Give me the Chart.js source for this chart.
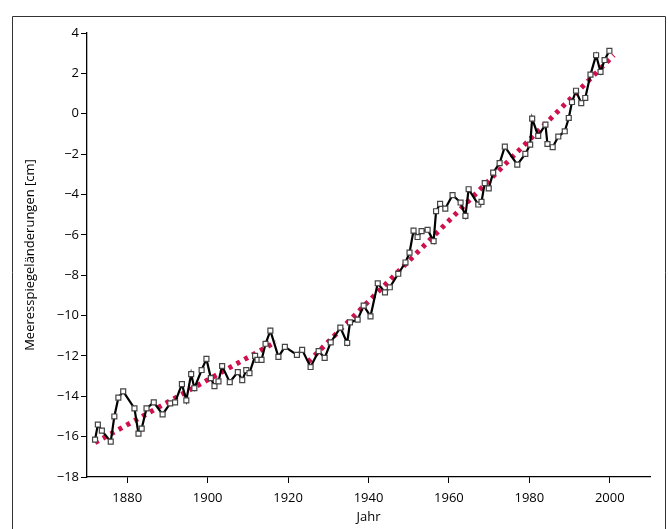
<!DOCTYPE html>
<html>
<head>
<meta charset="utf-8">
<script src="https://cdn.jsdelivr.net/npm/chart.js@4"></script>
<style>
  html, body { margin: 0; padding: 0; background: #fff; }
  #wrap { width: 668px; height: 529px; }
</style>
</head>
<body>
<div id="wrap"><canvas id="seaChart" width="668" height="529"></canvas></div>
<script>
// sea level data (years / cm)
const years = [
  1872, 1872.7, 1873.7, 1875.9, 1876.8, 1877.8, 1879, 1881.8, 1882.8, 1883.6,
  1884.8, 1886.6, 1888.8, 1890.7, 1891.9, 1893.6, 1894.7, 1895.9, 1896.7, 1898.5,
  1899.7, 1900.8, 1901.7, 1902.7, 1903.6, 1905.5, 1907.5, 1908.6, 1909.6, 1910.4,
  1911.8, 1912.4, 1913.4, 1914.4, 1915.6, 1917.6, 1919.2, 1922.2, 1923.5, 1925.6,
  1927.6, 1929.1, 1930.6, 1933.0, 1934.7, 1935.4, 1937.3, 1938.8, 1940.5, 1942.3,
  1944.1, 1945.3, 1947.4, 1949.2, 1950.2, 1951.2, 1952.2, 1953.2, 1954.7, 1956.2,
  1956.8, 1957.8, 1959.1, 1960.9, 1962.9, 1964.1, 1964.9, 1967.3, 1968.1, 1968.9,
  1969.9, 1971.0, 1972.6, 1973.9, 1977.0, 1979.0, 1980.2, 1980.7, 1982.2, 1984.0,
  1984.5, 1985.8, 1987.2, 1988.8, 1989.8, 1990.6, 1991.6, 1992.9, 1993.9, 1995.2,
  1996.6, 1997.7, 1998.7, 1999.9
]
const seaLevel = [
  -16.15, -15.4, -15.7, -16.25, -15.0, -14.07, -13.76, -14.6, -15.85, -15.6,
  -14.6, -14.3, -14.9, -14.35, -14.3, -13.4, -14.2, -12.9, -13.6, -12.7,
  -12.15, -13.1, -13.5, -13.26, -12.5, -13.3, -12.8, -13.2, -12.7, -12.85,
  -12.0, -12.2, -12.2, -11.4, -10.75, -12.05, -11.55, -11.95, -11.7, -12.55,
  -11.76, -12.1, -11.33, -10.6, -11.36, -10.34, -10.2, -9.51, -10.04, -8.4,
  -8.85, -8.6, -7.93, -7.37, -6.88, -5.79, -6.11, -5.82, -5.75, -6.31,
  -4.83, -4.47, -4.7, -4.03, -4.4, -5.06, -3.74, -4.5, -4.37, -3.44,
  -3.7, -2.92, -2.45, -1.63, -2.52, -1.99, -1.53, -0.24, -1.1, -0.54,
  -1.5, -1.66, -1.13, -0.87, -0.21, 0.58, 1.14, 0.52, 0.78, 1.94,
  2.9, 2.07, 2.66, 3.12
]
// two linear trend pieces (null = gap)
const trendYears = [1872, 1917, 1921, 1925, 2001]
const trendValues = [-16.3, -11.3, null, -12.3, 2.9]

const xTicks = [1880, 1900, 1920, 1940, 1960, 1980, 2000]
const yTicks = [-18, -16, -14, -12, -10, -8, -6, -4, -2, 0, 2, 4]

const FONT = 'Open Sans, Lato, sans-serif'

const framePlugin = {
  id: 'frame',
  beforeDraw(chart) {
    const ctx = chart.ctx
    ctx.save()
    ctx.strokeStyle = '#333'
    ctx.lineWidth = 1
    ctx.beginPath()
    ctx.moveTo(12.5, 529)
    ctx.lineTo(12.5, 16.5)
    ctx.lineTo(665.5, 16.5)
    ctx.lineTo(665.5, 529)
    ctx.stroke()
    ctx.restore()
  },
}

const ctx = document.getElementById('seaChart').getContext('2d')
new Chart(ctx, {
  type: 'line',
  data: {
    datasets: [
      {
        label: 'Trend',
        data: trendYears.map((x, i) => ({ x, y: trendValues[i] })),
        borderColor: '#d0104c',
        borderWidth: 5,
        borderDash: [4, 5],
        pointRadius: 0,
        spanGaps: false,
        order: 2,
      },
      {
        label: 'Meeresspiegel',
        data: years.map((x, i) => ({ x, y: seaLevel[i] })),
        borderColor: '#000',
        borderWidth: 2.2,
        pointStyle: 'rect',
        pointRadius: 3.5,
        pointBackgroundColor: '#fff',
        pointBorderColor: '#444',
        pointBorderWidth: 1.2,
        tension: 0,
        order: 1,
      },
    ],
  },
  options: {
    responsive: false,
    animation: false,
    layout: { padding: { left: 22, top: 33, right: 18, bottom: 4 } },
    plugins: { legend: { display: false }, tooltip: { enabled: false } },
    scales: {
      x: {
        type: 'linear',
        min: 1870,
        max: 2010,
        afterBuildTicks: (s) => { s.ticks = xTicks.map((v) => ({ value: v })) },
        afterFit: (s) => { s.height = 48 },
        grid: { drawOnChartArea: false, tickLength: 6, color: '#000' },
        border: { color: '#000', width: 1.3 },
        ticks: { color: '#000', font: { family: FONT, size: 13 }, padding: 7, maxRotation: 0, callback: (v) => String(v) },
        title: { display: true, text: 'Jahr', color: '#000', font: { family: FONT, size: 13 }, padding: 0 },
      },
      y: {
        min: -18,
        max: 4,
        afterBuildTicks: (s) => { s.ticks = yTicks.map((v) => ({ value: v })) },
        afterFit: (s) => { s.width = 65 },
        grid: { drawOnChartArea: false, tickLength: 6, color: '#000' },
        border: { color: '#000', width: 1.3 },
        ticks: {
          color: '#000',
          font: { family: FONT, size: 13 },
          padding: 2,
          callback: (v) => (v < 0 ? '\u2212' + Math.abs(v) : String(v)),
        },
        title: { display: true, text: 'Meeresspiegeländerungen [cm]', color: '#000', font: { family: FONT, size: 13 }, padding: 0 },
      },
    },
  },
  plugins: [framePlugin],
})
</script>
</body>
</html>
